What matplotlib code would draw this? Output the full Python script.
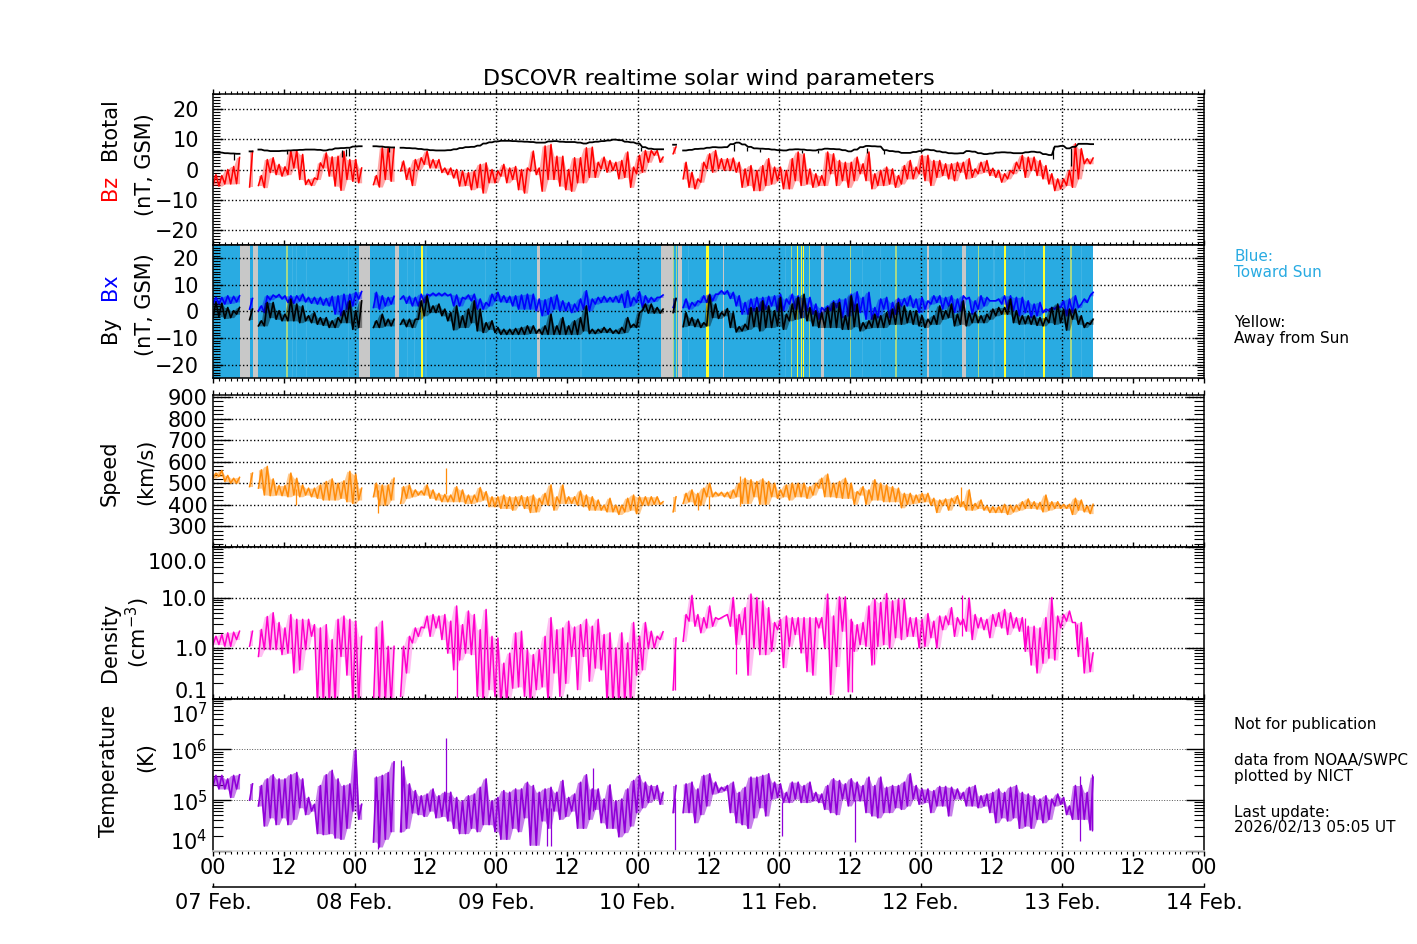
import numpy as np
import matplotlib
matplotlib.use("Agg")
import matplotlib.pyplot as plt
from matplotlib.ticker import FixedLocator, LogLocator, MultipleLocator, NullFormatter
from matplotlib.transforms import ScaledTranslation

W, H = 1417, 944

# hours since 07 Feb 00:00 where each continuous stretch of data starts
seg_start = [0, 6.2, 7.7, 27.2, 31.8, 78.0, 79.7]

bt = [
    [5.7, 5.6, 5.4, 5.3, 5.2],
    [6.0],
    [6.6, 6.3, 6.1, 6.1, 6.2, 6.3, 6.4, 6.5, 6.6, 6.6, 6.5, 6.3, 6.6, 7.0, 7.1, 7.2, 7.6, 7.7],
    [7.7, 7.6, 7.4, 7.3],
    [7.2, 7.1, 7.0, 6.8, 6.6, 6.4, 6.3, 6.3, 6.4, 6.7, 7.1, 7.4, 7.5, 7.9, 8.6, 9.0, 9.3, 9.5, 9.5, 9.4, 9.3, 9.2, 9.1,
     8.9, 8.9, 9.3, 9.4, 9.2, 9.1, 9.1, 8.9, 8.6, 9.0, 9.2, 9.4, 9.6, 9.9, 9.7, 9.2, 9.0, 8.6, 7.4, 6.9, 6.7, 6.7],
    [8.2],
    [6.3, 6.5, 6.8, 6.9, 7.2, 7.4, 7.3, 7.4, 8.4, 8.9, 8.3, 7.5, 7.0, 6.9, 6.8, 6.6, 6.4, 6.3, 6.6, 6.7, 6.6, 6.4, 6.3,
     6.6, 6.9, 6.8, 6.7, 6.4, 6.0, 6.6, 7.4, 7.8, 7.7, 7.6, 6.4, 6.1, 5.9, 5.5, 5.5, 5.8, 6.1, 6.6, 6.4, 6.0, 5.7, 5.4,
     5.3, 5.4, 6.1, 5.9, 5.4, 5.1, 5.3, 5.6, 5.7, 5.6, 5.4, 5.4, 5.7, 5.9, 5.7, 5.1, 4.8, 7.6, 7.8, 7.0, 7.5, 8.5, 8.5, 8.4],
]
# short drops of Btotal below its running level
bt_dip_h = [3.6, 12.5, 21.9, 22.6, 23.1, 29.8, 72.6, 88.4, 90.6, 92.7, 96.0, 99.8, 102.6, 110.8, 113.8, 142.4, 145.4]
bt_dip_lo = [3.0, 5.2, 4.3, 4.6, 4.4, 5.8, 6.0, 6.0, 6.2, 5.8, 5.7, 5.4, 5.5, 5.3, 5.1, 3.5, 1.0]
bt_dip_hi = [5.4, 6.4, 6.5, 6.7, 7.0, 7.4, 7.6, 8.6, 7.5, 6.9, 6.4, 6.6, 6.6, 7.2, 6.4, 7.6, 7.2]

bz_lo = [
    [-5.3, -5.5, -4.8, -4.8, -4.7],
    [-5.8],
    [-5.3, -6, -1, -1.7, -2.2, -1.7, 0.5, -3.3, -5, -5.3, -3.3, 0.5, -2.2, -5.5, -6.9, -3.3, -3.9, -4.4],
    [-5, -5.8, -3.3, -3.9],
    [-0.5, -3.3, -5.3, 0, 1.7, 0.5, 0.5, -1, -1.7, -2.8, -5.5, -5.3, -6.7, -6, -7.8, -4.4, -4.4, -2.2, -4.4, -3.3, -6.7,
     -7.8, -0.5, -1.7, -7.2, -3.3, -3.3, -5.5, -6.7, -7.2, -4.4, -4.4, -2.6, -2.6, 0.2, -0.9, -0.3, -3.1, -2.6, -5.9,
     -1.4, -0.9, 2.4, 4.7, 2.4],
    [5.2],
    [-3.1, -5.9, -6.4, -4.2, 0.2, -0.9, 0.2, -0.3, -0.3, -0.9, -5.9, -5.3, -7, -7, -5.3, -4.8, -3.7, -6.4, -6.4, -3.7,
     -5.3, -4.8, -5.9, -5.3, -5.3, -1.4, -5.3, -3.7, -5.9, -3.7, -1.4, -3.7, -6.4, -5.3, -5.3, -4.8, -5.9, -4.8, -3.1,
     -3.1, -1.4, -3.7, -5.3, -2.6, -2, -3.1, -3.7, -0.9, -3.1, -2.6, -1.4, -0.9, -2, -2.6, -4.2, -3.1, -1.4, 0.2, -2.6,
     -0.3, -2, -3.1, -4.8, -7, -6.4, -5.3, -5.9, -3.1, 1.9, 1.9],
]
bz_hi = [
    [-1.7, -2, 0, 1, 4],
    [6],
    [-2, 3.3, 3.9, 1.7, 0.9, 6.1, 6.3, 5, -3.3, -2.8, 2.2, 5.5, 4.2, 4.4, 6, 3.3, 3.3, 0.5],
    [-2, 7.2, 7.2, 7.2],
    [2.8, 0.5, 3.3, 3.9, 6.1, 3.3, 3.3, 0.5, 0.5, 0, -0.5, -1, -0.5, 1.7, 2.2, 0, -0.5, 1.7, 0.5, 1, 0, 0.5, 6.1, 0.5,
     7.8, 8.3, 4.4, 4.4, 0, 3.9, 3.9, 7.2, 7.4, 2.4, 4.1, 3, 2.4, 3, 5.8, 0.8, 4.7, 6.3, 6.3, 6.3, 4.1],
    [7.5],
    [2.4, -0.9, -3.1, 2.4, 5.2, 6.3, 3.6, 3.6, 3.8, 2.4, 0.2, 1.3, -0.3, 1.3, 3.6, 0.8, 0.8, -0.3, 3.6, 5.8, 5.2, 0.2,
     -1.4, -2, 5.8, 5.2, 3, 2.4, 2.4, 4.1, 1.9, 5.8, -1.4, -0.3, 0.8, 0.2, -2, 1.3, 3, 0.8, 4.7, 4.7, 3, 3, 1.9, 1.9,
     2.4, 2.4, 3.6, 0.2, 2.4, 3, 0.4, -0.3, -1.4, -0.3, 2.4, 4.7, 4.1, 4.1, 3, 1.3, -1.4, -3.1, -3.1, -0.3, 8.5, 6.9,
     3.6, 3.8],
]

by_lo = [
    [-2.3, -1.9, -2.6, -2.3, -1],
    [-3.1],
    [-5.4, -5.4, -2.3, -2.9, -3.5, -3.5, -3.5, -4.2, -3.5, -4.2, -4.8, -5.2, -6, -6, -4.2, -4.2, -6.7, -6],
    [-6, -6, -5.4, -5.4],
    [-4.8, -5.7, -6, -2.9, -1.6, -0.4, -0.4, -1.6, -3.5, -6.9, -6, -6, -4.2, -7.3, -7.9, -6.7, -7.9, -8.6, -8.6, -8.6,
     -8.6, -8.6, -8.2, -8.2, -8.6, -8.6, -8.6, -8.6, -8.6, -8.6, -8.6, -7.3, -8.3, -8.3, -7.9, -7.9, -8.2, -8.3, -7.9,
     -6, -6, 0.3, -0.6, -0.6, -0.6],
    [-0.4],
    [-5.7, -5.2, -5.7, -6, -5.4, -2.3, -2.6, -1.6, -6, -7.7, -7.3, -6.7, -5.7, -7.3, -6, -6, -5.4, -6.7, -3.5, -2.9,
     -2.3, -3.5, -5.4, -6, -6, -6, -6, -6.7, -6.7, -5.7, -7.3, -6.4, -6, -6, -6, -4.8, -4.8, -4.8, -4.2, -4.8, -5.4, -6,
     -4.8, -4.8, -2.9, -2.3, -5.4, -4.8, -5.4, -4.2, -4.2, -4.2, -2.9, -1.6, -1, -1, -4.2, -4.8, -4.6, -4.8, -5.2, -5.4,
     -4.2, -4.8, -4.2, -7, -2.9, -4.8, -6, -4.8],
]
by_hi = [
    [3.4, 3.1, 1.5, 0.3, 1.5],
    [0.9],
    [-3.5, 3.4, 3.4, 0.3, -1, 4.7, 2.8, 2.1, -1.6, -0.4, -2.3, -2.3, -3.5, -2.3, 0.3, 4, 0.3, 4],
    [-3.5, -1, -2.9, -2.9],
    [-2.9, -2.9, -2.9, 4, 5.9, 2.1, 2.8, 0.9, -0.4, 2.1, -1.6, 0.9, 4, 0.9, -4.2, -3.5, -6, -6.7, -6.7, -6.4, -6, -5.4,
     -5.4, -6.7, -5.4, -1, -5.4, -2.3, -5.4, -3.5, -2.3, 2.1, -6.7, -6.7, -6, -6.4, -7, -6, -2.3, -4.8, -0.4, 2.8, 2.8,
     1.5, 0.9],
    [4.9],
    [-0.4, -2.3, -2.9, -4.2, 6.2, 2.8, -0.4, 1.1, -0.4, -5.7, -4.8, 1.5, 1.5, 4, 2.1, 0.3, 5.3, -1, 2.8, 5.3, 6.5, 1.5,
     0.3, -0.4, 1.5, 3.4, 3.4, -1.6, 5.9, 2.8, -4.2, -3.5, -1, -1.6, -0.4, 0.9, 3.4, 2.1, 0.3, 0.3, -1.6, -2.9, -1.6,
     2.1, 0.3, 2.8, -1, 4, -0.4, -0.4, -1.6, -1, 0.9, 1.5, 1.5, 4.7, 0.3, -1.6, -1.6, -1.6, -2.3, -2.3, 1.5, 2.8, 0.9,
     0.9, 0.9, -1.6, -4.2, -2.9],
]

bx_lo = [
    [2.8, 2.8, 2.8, 3.1, 3.6],
    [0.9],
    [0.3, -0.4, 4.4, 5.3, 4.7, 3.4, 3.1, 4, 3.6, 3.1, 2.8, 2.4, 2.1, -1, -1.6, 0.9, 2.1, 4.7],
    [1.5, 0.9, 2.1, 2.8],
    [4.7, 3.1, 2.1, 2.1, 3.4, 5.9, 5.9, 5.9, 5.9, 2.1, 2.1, 4.7, 4, 0.9, 0.9, 2.1, 4, 3.6, 3.4, 2.1, 0.9, 0.9, 0.9, 0.3,
     -1.6, -1, 0.9, 0.3, 0.3, -0.4, 0.3, 0.9, 0.3, 2.8, 3.4, 3.6, 3.6, 3.4, 1.5, 2.1, 3.4, 1.5, 3.4, 3.8, 5.3],
    [1.5],
    [1.5, 0.9, 2.1, 3.4, 3.4, 4, 6.5, 6.5, 4.9, 2.1, -1, -1, 0.3, 0.3, 0.9, 2.1, 0.3, 0.3, 2.8, 0.9, -2.3, 0.3, -1, -2.9,
     0.3, 0.3, 1.5, -2.3, -1.6, 0.3, -0.4, -2.9, -2.9, -2.3, 0.9, -2.3, -1, 2.1, 2.1, 1.5, -0.4, 0.9, 2.8, 3.4, 0.9, 2.1,
     -0.4, 0.3, 4.7, -1, 0.9, 2.1, 4, 4, 2.8, 0.9, 0.3, -1.6, -0.4, -2.3, -1.6, -0.4, 0.3, 0.9, 1.5, -1.6, -0.4, 1.5,
     4.7, 5.9],
]
bx_hi = [
    [5.3, 5.3, 5.9, 5.7, 5.9],
    [4.9],
    [2.1, 5.9, 6.2, 6.4, 5.9, 5.9, 5.9, 6.5, 5.3, 5.3, 5.3, 4.9, 5.7, 5.9, 6.5, 6.5, 7.2, 7.5],
    [7.2, 5.9, 5.3, 5.7],
    [5.9, 5.7, 5.3, 6.5, 6.5, 6.9, 6.9, 6.9, 6.5, 6.2, 5.3, 6.2, 6.5, 4.7, 3.4, 6.5, 7.2, 5.9, 5.7, 5.9, 6.2, 6.5, 6.5,
     4.7, 4.4, 5.3, 6.2, 4, 3.4, 2.8, 4.7, 7.8, 4.7, 5.3, 5.7, 5.3, 5.7, 6.5, 7.8, 5.3, 7.4, 5.9, 5.3, 5.3, 6.2],
    [4.7],
    [4.7, 3.4, 4, 5.9, 6.5, 6.5, 7.8, 7.8, 7.2, 5.9, 3.4, 4.7, 5.3, 5.3, 5.7, 5.9, 6.5, 4.7, 6.5, 5.9, 5.3, 5.3, 2.8,
     1.5, 2.1, 4, 4.7, 4.7, 6.5, 7.4, 5.3, 7.2, 1.5, 4.7, 5.3, 3.4, 4.9, 4.9, 5.9, 4.7, 5.3, 4, 5.9, 5.9, 5.3, 5.9, 4.7,
     5.9, 5.3, 4, 5.9, 5.3, 4, 4.7, 5.9, 5.9, 5.3, 5.3, 4, 2.8, 3.4, 0.9, 1.5, 2.1, 4, 4.7, 5.9, 2.8, 3.4, 7.2],
]

speed_lo = [
    [523, 531, 508, 500, 500],
    [484],
    [477, 445, 442, 445, 442, 437, 445, 437, 445, 437, 430, 422, 422, 422, 430, 414, 406, 422],
    [437, 398, 398, 422],
    [406, 430, 437, 445, 445, 430, 422, 414, 414, 414, 414, 406, 406, 414, 422, 391, 391, 383, 383, 375, 398, 383, 364,
     367, 402, 398, 375, 406, 406, 406, 398, 391, 375, 375, 375, 367, 367, 355, 367, 375, 359, 398, 398, 402, 402],
    [367],
    [406, 414, 398, 398, 437, 437, 442, 437, 430, 437, 406, 406, 437, 402, 402, 437, 430, 437, 422, 437, 437, 430, 445,
     477, 437, 437, 433, 430, 430, 402, 445, 402, 422, 422, 414, 414, 414, 386, 402, 406, 411, 414, 398, 364, 398, 375,
     406, 391, 375, 375, 383, 375, 364, 364, 364, 355, 367, 375, 383, 383, 380, 367, 375, 383, 383, 383, 355, 375, 367, 359],
]
speed_hi = [
    [547, 559, 536, 523, 527],
    [547],
    [562, 578, 520, 489, 489, 547, 523, 492, 477, 477, 492, 508, 520, 500, 511, 555, 542, 477],
    [500, 492, 492, 523],
    [484, 492, 469, 464, 492, 469, 453, 448, 445, 484, 469, 445, 445, 480, 461, 437, 437, 445, 437, 437, 442, 437, 445,
     430, 453, 492, 437, 492, 437, 437, 464, 445, 437, 422, 398, 430, 398, 398, 430, 445, 437, 437, 437, 437, 414],
    [437],
    [453, 469, 453, 477, 500, 458, 458, 458, 469, 500, 523, 516, 508, 520, 508, 500, 469, 492, 500, 500, 500, 484, 500,
     523, 542, 500, 508, 523, 500, 461, 484, 469, 516, 500, 492, 484, 477, 453, 453, 445, 453, 453, 430, 422, 427, 430,
     442, 414, 469, 406, 422, 395, 391, 391, 402, 398, 398, 414, 427, 414, 411, 445, 414, 414, 402, 402, 430, 422, 395, 402],
]
# isolated excursions, hour / lower end / upper end
speed_spike_h = [39.5, 14.0, 27.9, 84.0, 89.3, 82.2, 126.8]
speed_spike_lo = [450, 400, 360, 380, 395, 375, 400]
speed_spike_hi = [571, 475, 470, 440, 535, 445, 480]

dens_lo = [
    [1.17, 1.17, 1.08, 1.08, 1.47],
    [1.08],
    [0.68, 0.93, 0.93, 0.93, 0.74, 0.79, 0.32, 0.37, 0.93, 1.71, 0.08, 0.08, 0.08, 0.08, 0.68, 0.29, 0.08, 0.08],
    [0.08, 0.08, 0.08, 0.08],
    [0.11, 0.32, 1.26, 1.7, 2.5, 1.7, 2.5, 1.47, 0.79, 0.37, 0.58, 0.79, 0.74, 0.11, 0.08, 0.15, 0.11, 0.08, 0.08, 0.16,
     0.17, 0.11, 0.08, 0.15, 0.17, 0.08, 0.32, 0.11, 0.2, 0.68, 0.15, 0.68, 0.22, 0.4, 0.37, 0.08, 0.08, 0.08, 0.08, 0.08,
     0.29, 0.37, 1, 1, 1.47],
    [0.147],
    [1.36, 3.4, 2.7, 2, 2.5, 2.7, 3.7, 4.3, 2.7, 1.17, 1.85, 0.29, 1, 0.74, 0.74, 0.86, 2.3, 0.41, 1.08, 1.85, 0.8, 0.34,
     0.29, 2.5, 1, 0.12, 0.43, 2.15, 0.136, 0.86, 1.17, 1.08, 0.46, 1.08, 1.17, 1, 1.6, 1.47, 1.7, 1.7, 1, 1.08, 1.6, 1,
     2.3, 2.9, 1.7, 2.9, 2.15, 1.47, 2.5, 2.3, 1.6, 2.7, 2.5, 1.85, 2.5, 2.15, 0.86, 0.46, 0.32, 0.5, 0.63, 0.58, 2.5,
     3.4, 3.2, 0.68, 0.32, 0.34],
]
dens_hi = [
    [1.71, 1.85, 2, 2.06, 2.15],
    [2.15],
    [2.33, 4.2, 5, 3.2, 2.5, 4.6, 3.7, 3.7, 3.7, 2.9, 2.5, 2.9, 1.47, 3.7, 4.3, 3.7, 3.4, 1.7],
    [2.6, 3.4, 1.08, 1.08],
    [1.08, 1.7, 2.5, 2.6, 4.3, 4.6, 4.3, 4.6, 3.4, 6.8, 2.9, 5.4, 4.6, 2.3, 5.8, 1.7, 1.58, 0.5, 0.79, 2, 2.15, 0.93,
     0.74, 0.93, 1.7, 4, 2.3, 2.5, 3.4, 2.6, 2.9, 3.7, 2.7, 3.7, 1.85, 2, 1, 2, 1.26, 3.2, 1.71, 3.2, 2.15, 1.71, 2.1],
    [1.58],
    [4.6, 11, 4.6, 4, 6.8, 4, 4, 4.6, 10, 4.6, 6.3, 11.7, 10, 8.6, 6.3, 3.2, 3.7, 4.3, 4, 4, 4, 4, 4, 4, 11.7, 4.3, 10.3,
     10.3, 3.7, 2.9, 3.2, 6.8, 9.3, 8, 12, 8.6, 9.3, 9.3, 4, 4, 3.7, 4.8, 3.4, 4.3, 4.3, 6.3, 4, 3.7, 9.7, 4.6, 4, 3.7,
     4.6, 5, 5.8, 5, 4, 4, 2.7, 2.7, 2.5, 4, 10, 4.3, 4.6, 5.4, 3.2, 3.2, 1.6, 0.8],
]
dens_spike_h = [41.3, 78.3, 88.6, 108.3, 112.1, 127.0, 137.6, 146.4]
dens_spike_lo = [0.1, 0.147, 0.31, 0.136, 0.48, 1.7, 1.2, 0.9]
dens_spike_hi = [3.0, 1.2, 4.0, 3.5, 3.5, 11.0, 4.0, 3.0]

temp_lo = [
    [194, 166, 166, 113, 166],
    [100],
    [77, 31, 45, 33, 45, 33, 42, 71, 52, 61, 22, 21, 22, 18, 17, 28, 61, 42],
    [15, 12, 17, 24],
    [24, 28, 56, 52, 48, 61, 45, 48, 39, 28, 22, 22, 28, 24, 33, 33, 24, 17, 17, 28, 24, 45, 13, 13, 39, 28, 61, 42, 48,
     61, 28, 28, 42, 66, 36, 28, 28, 19, 23, 31, 57, 71, 90, 105, 83],
    [57],
    [57, 57, 36, 52, 77, 132, 142, 154, 57, 36, 33, 28, 45, 71, 49, 105, 113, 90, 90, 105, 90, 90, 97, 90, 66, 57, 52, 105,
     77, 97, 97, 57, 49, 45, 57, 57, 71, 66, 77, 105, 83, 90, 57, 77, 77, 49, 105, 105, 77, 77, 71, 77, 57, 36, 45, 39, 45,
     28, 31, 28, 42, 36, 42, 77, 83, 52, 42, 42, 42, 26],
]
temp_hi = [
    [307, 307, 262, 307, 316],
    [209],
    [194, 262, 316, 262, 262, 316, 350, 262, 113, 83, 194, 316, 386, 262, 194, 209, 970, 83],
    [284, 307, 350, 566],
    [450, 209, 154, 122, 132, 166, 122, 143, 143, 113, 97, 122, 132, 179, 262, 97, 113, 154, 143, 166, 166, 224, 194, 143,
     166, 179, 143, 244, 113, 132, 224, 316, 166, 166, 105, 200, 97, 105, 166, 244, 307, 226, 194, 194, 142],
    [194],
    [209, 226, 166, 307, 330, 226, 179, 194, 226, 142, 179, 284, 284, 307, 330, 226, 209, 142, 226, 226, 194, 226, 142, 132,
     194, 263, 244, 209, 263, 226, 194, 284, 194, 284, 179, 194, 194, 226, 330, 194, 166, 166, 154, 186, 186, 179, 166, 142,
     179, 194, 122, 132, 142, 166, 142, 179, 194, 142, 132, 122, 105, 122, 105, 132, 113, 77, 194, 194, 142, 284],
]
temp_spike_h = [39.5, 24.0, 28.0, 31.9, 40.0, 56.7, 57.3, 78.3, 64.4, 96.5, 108.9, 147.0, 149.0]
temp_spike_lo = [90, 100, 11, 24, 60, 12.5, 12.5, 10.5, 60, 20, 15, 16, 25]
temp_spike_hi = [1700, 1000, 100, 630, 120, 70, 70, 110, 420, 90, 100, 300, 320]

# interplanetary field sector colouring behind By/Bx: (start hour, end hour)
sector_end = 149.2
gray_spans = [(4.5, 6.2), (6.7, 7.7), (24.7, 26.6), (30.8, 31.6), (54.9, 55.5), (75.9, 78.0), (78.8, 79.5),
              (86.5, 86.7), (103.0, 103.5), (121.1, 121.4), (127.0, 127.6)]
yellow_spans = [(35.3, 35.55), (83.6, 84.0), (99.0, 99.25), (99.6, 99.85), (100.0, 100.25), (134.1, 134.4), (140.7, 141.0)]
pale_yellow_spans = [(12.4, 12.7), (78.0, 78.2), (78.5, 78.7), (108.0, 108.2), (115.7, 115.95), (129.7, 129.9),
                     (145.3, 145.55), (98.0, 98.2), (101.0, 101.2)]
pale_spans = [(0.8, 1.0), (13.4, 13.6), (14.1, 14.3), (15.8, 16.0), (22.9, 23.1), (32.9, 33.1), (34.1, 34.3),
              (36.0, 36.2), (46.1, 46.3), (50.3, 50.5), (62.3, 62.6), (80.5, 80.7), (96.9, 97.1), (110.0, 110.2),
              (113.0, 113.2), (123.3, 123.5), (132.3, 132.5), (137.5, 137.7), (147.2, 147.4)]


def axes_px(top, bottom):
    return fig.add_axes([213 / W, 1 - bottom / H, 991 / W, (bottom - top) / H])


def zigzag(lo_segs, hi_segs):
    # one low and one high sample per hour, with a break between data stretches
    xs, ys = [], []
    for start, lo, hi in zip(seg_start, lo_segs, hi_segs):
        for i in range(len(lo)):
            xs += [start + i, start + i + 0.5]
            ys += [lo[i], hi[i]]
        xs.append(np.nan)
        ys.append(np.nan)
    return xs, ys


def draw_band(ax, lo_segs, hi_segs, color, alpha, scale=1.0, lw=1.0):
    # the measurements are too dense to resolve, so show the hourly range lightly filled with a jagged line on top
    for start, lo, hi in zip(seg_start, lo_segs, hi_segs):
        t = [start + i + d for i in range(len(lo)) for d in (0, 0.5)]
        low = [v * scale for v in lo for _ in (0, 1)]
        high = [v * scale for v in hi for _ in (0, 1)]
        ax.fill_between(t, low, high, color=color, alpha=alpha, lw=0, zorder=2)
    x, y = zigzag(lo_segs, hi_segs)
    ax.plot(x, np.array(y) * scale, color=color, lw=lw, zorder=2)


def style_x(ax, bottom_ticks=False):
    ax.set_xlim(0, 168)
    ax.xaxis.set_major_locator(MultipleLocator(12))
    ax.xaxis.set_minor_locator(MultipleLocator(1))
    ax.tick_params(axis="x", which="major", direction="out", top=True, bottom=bottom_ticks, length=3.6, width=1,
                   labelbottom=False)
    ax.tick_params(axis="x", which="minor", direction="out", top=True, bottom=bottom_ticks, length=2.2, width=0.8)
    for d in range(1, 7):
        ax.axvline(d * 24, color="black", ls=":", lw=1, zorder=1.5)


def style_y(ax, major_len, minor_len, pad):
    ax.tick_params(axis="y", which="major", direction="in", left=True, right=True, length=major_len, width=1,
                   labelsize=15, pad=pad)
    ax.tick_params(axis="y", which="minor", direction="in", left=True, right=True, length=minor_len, width=0.8)
    ax.grid(True, axis="y", which="major", color="black", ls=":", lw=1)


def shift_label(label, dy_px):
    # end labels sit inside the panel rather than on their tick
    label.set_transform(label.get_transform() + ScaledTranslation(0, dy_px / 100, fig.dpi_scale_trans))


plt.rcParams["axes.linewidth"] = 1.1
fig = plt.figure(figsize=(W / 100, H / 100), dpi=100)

# Btotal / Bz
ax1 = axes_px(94, 245)
draw_band(ax1, bz_lo, bz_hi, "red", 0.35, lw=1.1)
ax1.plot(*zigzag(bt, bt), color="black", lw=1.3, zorder=3)
ax1.vlines(bt_dip_h, bt_dip_lo, bt_dip_hi, color="black", lw=0.9, zorder=3)
ax1.set_ylim(-25, 25)
ax1.set_yticks([-20, -10, 0, 10, 20])
ax1.yaxis.set_minor_locator(MultipleLocator(1))
style_x(ax1)
style_y(ax1, 7.2, 5, 10)
ax1.set_title("DSCOVR realtime solar wind parameters", fontsize=16, pad=6.5)

# By / Bx
ax2 = axes_px(245, 378)
ax2.axvspan(0, sector_end, color="#29ABE2", lw=0)
for a, b in pale_spans:
    ax2.axvspan(a, b, color="#3FB3E4", lw=0)
for a, b in pale_yellow_spans:
    ax2.axvspan(a, b, color="#A5D88A", lw=0)
for a, b in gray_spans:
    ax2.axvspan(a, b, color="#C8C8C8", lw=0)
for a, b in yellow_spans:
    ax2.axvspan(a, b, color="#FFFF30", lw=0)
draw_band(ax2, bx_lo, bx_hi, "blue", 0.4, lw=1.2)
draw_band(ax2, by_lo, by_hi, "black", 0.4, lw=1.2)
ax2.set_ylim(-25, 25)
ax2.set_yticks([-20, -10, 0, 10, 20])
ax2.yaxis.set_minor_locator(MultipleLocator(1))
style_x(ax2, bottom_ticks=True)
style_y(ax2, 7.2, 5, 10)

# Speed
ax3 = axes_px(395, 547)
draw_band(ax3, speed_lo, speed_hi, "#FF8C0A", 0.45, lw=1.1)
ax3.vlines(speed_spike_h, speed_spike_lo, speed_spike_hi, color="#FF8C0A", lw=0.9, zorder=2)
ax3.set_ylim(204, 909)
ax3.set_yticks(np.arange(300, 901, 100))
ax3.yaxis.set_minor_locator(MultipleLocator(20))
style_x(ax3)
style_y(ax3, 13, 7.2, 4)

# Density
ax4 = axes_px(547, 698.5)
ax4.set_yscale("log")
draw_band(ax4, dens_lo, dens_hi, "#FF00CC", 0.25, lw=1.1)
ax4.vlines(dens_spike_h, dens_spike_lo, dens_spike_hi, color="#FF00CC", lw=0.9, zorder=2)
ax4.set_ylim(0.1, 100)
ax4.yaxis.set_major_locator(FixedLocator([0.1, 1, 10, 100]))
ax4.yaxis.set_minor_locator(LogLocator(base=10, subs=np.arange(2, 10), numticks=12))
ax4.yaxis.set_minor_formatter(NullFormatter())
ax4.set_yticklabels(["0.1", "1.0", "10.0", "100.0"])
style_x(ax4)
style_y(ax4, 13, 7.2, 4)
shift_label(ax4.get_yticklabels()[0], 8.5)
shift_label(ax4.get_yticklabels()[3], -14)

# Temperature, values in 10^3 K
ax5 = axes_px(698.5, 851)
ax5.set_yscale("log")
draw_band(ax5, temp_lo, temp_hi, "#9000D8", 0.5, scale=1e3, lw=1.2)
ax5.vlines(temp_spike_h, np.array(temp_spike_lo) * 1e3, np.array(temp_spike_hi) * 1e3, color="#9000D8", lw=0.9, zorder=2)
ax5.set_ylim(1e4, 1e7)
ax5.yaxis.set_major_locator(FixedLocator([1e4, 1e5, 1e6, 1e7]))
ax5.yaxis.set_minor_locator(LogLocator(base=10, subs=np.arange(2, 10), numticks=12))
ax5.yaxis.set_minor_formatter(NullFormatter())
ax5.set_yticklabels(["$10^{4}$", "$10^{5}$", "$10^{6}$", "$10^{7}$"])
style_x(ax5, bottom_ticks=True)
style_y(ax5, 13, 7.2, 4)
ax5.grid(True, axis="y", which="major", color="#555555", ls=":", lw=0.7)
shift_label(ax5.get_yticklabels()[0], 11)
shift_label(ax5.get_yticklabels()[3], -14)
ax5.spines["bottom"].set_color("#D8D8D8")
ax5.set_xticks(np.arange(0, 169, 12))
ax5.set_xticklabels(["00" if h % 24 == 0 else "12" for h in range(0, 169, 12)])
ax5.tick_params(axis="x", which="major", labelbottom=True, labelsize=15, pad=1.5)

# date axis under the panels
date_ax = axes_px(886.5, 887)
date_ax.set_xlim(0, 168)
date_ax.set_ylim(0, 1)
date_ax.set_yticks([])
for side in ["left", "right", "top"]:
    date_ax.spines[side].set_visible(False)
date_ax.set_xticks(np.arange(0, 169, 24))
date_ax.set_xticklabels(["07 Feb.", "08 Feb.", "09 Feb.", "10 Feb.", "11 Feb.", "12 Feb.", "13 Feb.", "14 Feb."],
                        fontsize=15)
date_ax.tick_params(axis="x", direction="in", length=3.2, width=1, pad=4)


def vlabel(x, y, s, color="black", size=15):
    fig.text(x / W, 1 - y / H, s, rotation=90, ha="center", va="center", color=color, fontsize=size)


vlabel(110, 129, "Btotal")
vlabel(110, 187, "Bz", "red")
vlabel(145, 165, "(nT, GSM)")
vlabel(110, 287, "Bx", "blue")
vlabel(110, 330, "By")
vlabel(145, 305, "(nT, GSM)")
vlabel(110, 473, "Speed")
vlabel(146, 472, "(km/s)")
vlabel(110, 642, "Density")
vlabel(138, 633, "(cm$^{-3}$)")
vlabel(109, 771, "Temperature")
vlabel(146, 757, "(K)")


def side_text(y, s, color="black"):
    fig.text(1234 / W, 1 - y / H, s, ha="left", va="center", color=color, fontsize=11, linespacing=1.05)


side_text(264.5, "Blue:\nToward Sun", "#29ABE2")
side_text(330.5, "Yellow:\nAway from Sun")
side_text(725, "Not for publication")
side_text(768.5, "data from NOAA/SWPC\nplotted by NICT")
side_text(820, "Last update:\n2026/02/13 05:05 UT")

fig.savefig("out.png", dpi=100)
